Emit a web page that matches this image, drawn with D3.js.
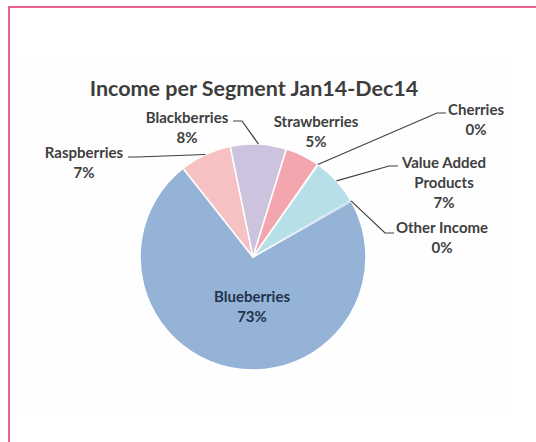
<!DOCTYPE html>
<html>
<head>
<meta charset="utf-8">
<title>Income per Segment</title>
<script src="https://d3js.org/d3.v7.min.js"></script>
<style>
    body { margin: 0; background: #fff; }
    svg { display: block; }
    text { font-family: Lato, "Noto Sans", sans-serif; font-weight: bold; }
</style>
</head>
<body>
<script>
// data (percent of income)
var segments = ["Blueberries", "Raspberries", "Blackberries", "Strawberries", "Cherries", "Value Added Products", "Other Income"];
var shares = [72.6, 7.4, 8.0, 4.9, 0.1, 6.9, 0.1];
var colors = ["#95b3d7", "#f5c1c3", "#cdc3df", "#f3a6ad", "#e6b9b8", "#b7dfe8", "#a9c4e4"];
var labelLines = {
    "Value Added Products": ["Value Added", "Products"]
};

var width = 536, height = 442;
var cx = 253, cy = 257, radius = 113;

var svg = d3.select("body").append("svg")
    .attr("width", width)
    .attr("height", height);

// outer frame and faint chart area
svg.append("rect")
    .attr("x", 23).attr("y", 60)
    .attr("width", 487).attr("height", 352)
    .attr("fill", "#fefefe");

svg.append("rect")
    .attr("x", 9).attr("y", 7)
    .attr("width", 600).attr("height", 500)
    .attr("fill", "none")
    .attr("stroke", "#e3306a")
    .attr("stroke-width", 1.5);

svg.append("text")
    .attr("x", 254).attr("y", 96)
    .attr("text-anchor", "middle")
    .attr("font-size", 21.5)
    .attr("fill", "#3d3d3d")
    .text("Income per Segment Jan14-Dec14");

var data = segments.map(function(s, i) { return {name: s, value: shares[i], color: colors[i]}; });

var start = 60.4 * Math.PI / 180;
var pie = d3.pie()
    .sort(null)
    .value(function(d) { return d.value; })
    .startAngle(start)
    .endAngle(start + 2 * Math.PI);

var arc = d3.arc().innerRadius(0).outerRadius(radius);
var arcs = pie(data);

var g = svg.append("g").attr("transform", "translate(" + cx + "," + cy + ")");

g.selectAll("path")
    .data(arcs)
    .enter()
    .append("path")
    .attr("d", arc)
    .attr("fill", function(d) { return d.data.color; })
    .attr("stroke", "#fff")
    .attr("stroke-width", function(d) { return d.data.value < 1 ? 0 : 1.5; })
    .attr("stroke-linejoin", "round");

// where each label sits (text centre) and where its leader line ends
var labelLayout = {
    "Blueberries":          {x: 252, y: 297, lead: null},
    "Raspberries":          {x: 84,  y: 153, lead: [128, 157]},
    "Blackberries":         {x: 187, y: 118, lead: [233, 121]},
    "Strawberries":         {x: 316, y: 122, lead: null},
    "Cherries":             {x: 476, y: 110, lead: [446, 113]},
    "Value Added Products": {x: 444, y: 163, lead: [398, 166]},
    "Other Income":         {x: 442, y: 228, lead: [394, 233]}
};

var fmt = function(v) { return Math.round(v) + "%"; };

arcs.forEach(function(d) {
    var lay = labelLayout[d.data.name];
    var lines = (labelLines[d.data.name] || [d.data.name]).concat([fmt(d.data.value)]);
    var inside = d.data.name === "Blueberries";

    if (lay.lead) {
        var mid = (d.startAngle + d.endAngle) / 2;
        var ex = cx + radius * Math.sin(mid), ey = cy - radius * Math.cos(mid);
        var side = lay.lead[0] > ex ? -1 : 1;
        var pts = [[ex, ey], [lay.lead[0] + side * 9, lay.lead[1]], lay.lead];
        svg.append("path")
            .attr("d", d3.line()(pts))
            .attr("fill", "none")
            .attr("stroke", "#3f3f3f")
            .attr("stroke-width", 1.2);
    }

    var t = svg.append("text")
        .attr("text-anchor", "middle")
        .attr("font-size", 15)
        .attr("fill", inside ? "#22324d" : "#404040");
    lines.forEach(function(l, i) {
        t.append("tspan")
            .attr("x", lay.x)
            .attr("y", lay.y + i * 20)
            .attr("dy", "0.35em")
            .text(l);
    });
});
</script>
</body>
</html>
